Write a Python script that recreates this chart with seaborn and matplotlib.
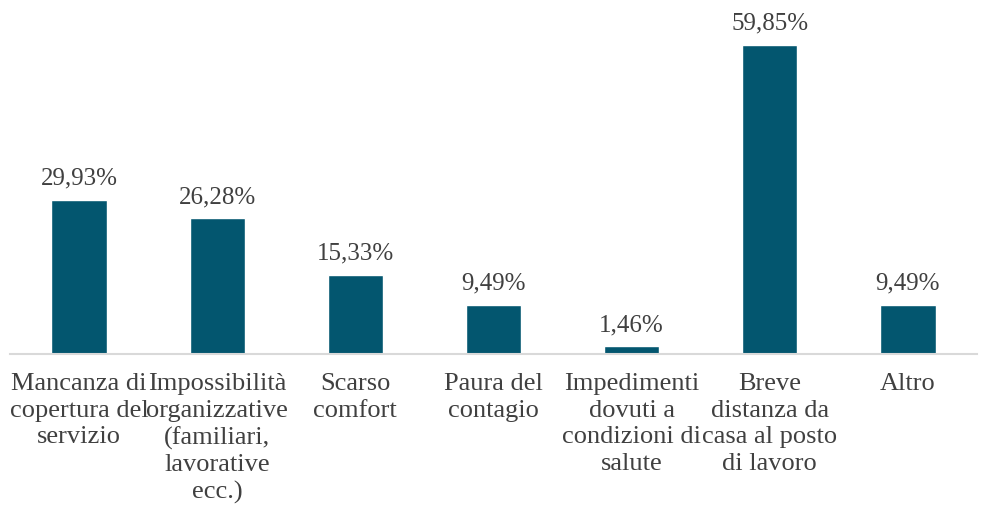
import matplotlib
matplotlib.use("Agg")
import matplotlib.pyplot as plt
import seaborn as sns
import pandas as pd

# chart data
CATEGORIES = [
    "Mancanza di\ncopertura del\nservizio",
    "Impossibilità\norganizzative\n(familiari,\nlavorative\necc.)",
    "Scarso\ncomfort",
    "Paura del\ncontagio",
    "Impedimenti\ndovuti a\ncondizioni di\nsalute",
    "Breve\ndistanza da\ncasa al posto\ndi lavoro",
    "Altro",
]
VALUES = [29.93, 26.28, 15.33, 9.49, 1.46, 59.85, 9.49]

BAR_COLOR = "#03566f"
TEXT_COLOR = "#404040"

sns.set_style("white")
plt.rcParams["font.family"] = ["Liberation Serif", "DejaVu Serif"]

df = pd.DataFrame({"cat": CATEGORIES, "val": VALUES})

fig = plt.figure(figsize=(9.81, 5.09), dpi=100)
ax = fig.add_axes([10 / 981, 155 / 509, 967 / 981, 335.4 / 509])

sns.barplot(data=df, x="cat", y="val", color=BAR_COLOR, width=0.4,
            saturation=1, ax=ax)

ax.set_ylim(0, 65)
ax.set_xlim(-0.5, len(CATEGORIES) - 0.5)

# value labels above bars
for i, v in enumerate(VALUES):
    ax.text(i, v + 2.0, f"{v:.2f}%".replace(".", ","), ha="center", va="bottom",
            fontsize=18, color=TEXT_COLOR)

for s in ["top", "right", "left"]:
    ax.spines[s].set_visible(False)
ax.spines["bottom"].set_color("#d9d9d9")
ax.spines["bottom"].set_linewidth(1.5)

ax.set_yticks([])
ax.set_xlabel("")
ax.set_ylabel("")
ax.tick_params(axis="x", length=0, pad=14, labelsize=19, labelcolor=TEXT_COLOR)
for lbl in ax.get_xticklabels():
    lbl.set_linespacing(1.26)

fig.savefig("out.png", dpi=100)
